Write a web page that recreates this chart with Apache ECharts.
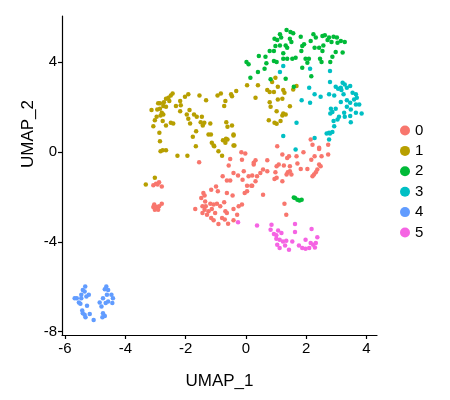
<!DOCTYPE html>
<html><head><meta charset="utf-8">
<script src="https://cdn.jsdelivr.net/npm/echarts@6/dist/echarts.min.js"></script>
<style>html,body{margin:0;padding:0;background:#fff}#c{width:450px;height:400px}</style>
</head><body><div id="c"></div>
<script>
const clusterNames = ['0','1','2','3','4','5'];
const clusterColors = ['#F8766D','#B79F00','#00BA38','#00BFC4','#619CFF','#F564E3'];
const xTicks = [-6,-4,-2,0,2,4];
const yTicks = [-8,-4,0,4];

const cluster0 = [
[-3.07,-1.48],[-2.98,-1.41],[-2.88,-1.35],[-2.79,-1.53],[-2.93,-1.45],
[-3.07,-2.45],[-3.02,-2.57],[-2.96,-2.45],[-2.88,-2.42],[-2.79,-2.30],[-3.04,-2.34],[-2.91,-2.57],
[-1.55,-0.45],[-0.52,-0.31],[-0.15,-0.01],[-0.02,-0.07],[-0.13,-0.34],[0.26,-0.48],[-0.57,-0.60],
[-0.77,-1.08],[-0.41,-0.93],[-0.26,-1.05],[-0.07,-0.86],[-0.63,-1.27],[-0.52,-1.27],[-0.11,-1.23],
[0.09,-1.08],[0.18,-1.50],[0.04,-1.50],[-0.99,-1.53],[-1.15,-1.68],[-0.93,-1.75],[-0.63,-1.82],
[-1.41,-1.82],[-1.37,-1.94],[-1.48,-2.05],[-0.44,-1.94],[-0.04,-1.82],[0.04,-1.75],[-1.35,-2.20],
[-1.18,-2.30],[-1.07,-2.34],[-0.96,-2.30],[-0.85,-2.42],[-0.72,-2.24],[-1.68,-2.54],[-1.44,-2.42],
[-1.37,-2.57],[-1.24,-2.64],[-1.13,-2.54],[-1.02,-2.72],[-0.68,-2.64],[-0.63,-2.72],[-0.41,-2.54],
[-0.24,-2.42],[-0.13,-2.34],[-0.29,-2.79],[-1.15,-2.94],[-0.79,-2.94],[-0.70,-3.01],[-0.91,-3.21],
[-1.07,-3.04],[-1.29,-2.79],[-0.41,-3.04],[-0.59,-3.19],[-1.44,-2.72],[-1.33,-2.42],
[2.15,0.56],[2.21,0.33],[2.43,0.14],[2.73,0.33],[2.73,-0.11],[1.04,0.26],[1.91,-0.01],[1.21,-0.11],
[1.37,-0.26],[1.43,-0.19],[1.68,-0.19],[2.17,-0.34],[2.28,-0.19],[2.51,-0.19],[0.71,-0.37],[0.32,-0.37],
[0.26,-0.56],[1.71,-0.51],[2.43,-0.56],[2.48,-0.63],[2.37,-0.78],[2.32,-0.90],[2.21,-1.08],[2.26,-1.00],
[1.09,-0.56],[1.26,-0.60],[1.02,-0.63],[1.46,-0.63],[1.82,-0.75],[2.04,-0.75],[0.57,-0.78],[0.71,-0.86],
[0.98,-0.90],[1.39,-0.90],[1.46,-0.86],[1.51,-1.00],[1.35,-1.00],[0.48,-0.93],[0.37,-1.08],[0.21,-1.05],
[0.95,-1.20],[1.02,-1.15],[1.21,-1.30],[0.32,-1.30],[0.21,-1.50],[0.57,-1.90],[1.28,-2.30],[1.34,-2.79],
[2.43,0.19]
];
const cluster1 = [
[-2.43,2.61],[-2.49,2.52],[-2.57,2.42],[-2.65,2.37],[-2.54,2.27],[-2.72,2.22],[-2.91,2.17],[-2.85,2.17],
[-3.13,1.87],[-2.94,1.90],[-2.85,1.93],[-2.74,2.05],[-2.65,2.02],[-2.79,1.75],[-2.74,1.67],[-2.83,1.63],
[-2.96,1.57],[-3.02,1.42],[-3.07,1.15],[-2.76,1.38],[-2.65,1.18],[-2.49,1.30],[-2.41,1.27],[-2.32,2.05],
[-2.18,2.27],[-2.16,2.08],[-2.18,1.82],[-2.02,2.46],[-1.91,2.57],[-1.96,1.67],[-1.87,1.87],[-1.91,1.48],
[-1.85,1.27],[-1.72,1.67],[-1.63,1.57],[-1.54,2.52],[-1.46,1.57],[-1.50,1.33],[-1.38,1.30],[-1.43,1.18],
[-1.18,1.27],[-1.65,0.93],[-1.76,0.68],[-1.24,0.78],[-1.16,0.78],[-1.32,2.31],[-1.13,0.41],[-1.05,0.26],
[-0.91,0.04],[-0.79,-0.16],[-0.94,2.52],[-0.83,2.61],[-0.72,2.05],[-0.68,2.27],[-0.49,2.57],[-0.46,2.49],
[-0.32,2.72],[-0.65,1.33],[-0.61,1.13],[-0.46,1.18],[-0.76,0.53],[-0.68,0.41],[-0.61,0.56],[-0.41,0.74],
[-0.38,0.29],[-2.87,0.86],[-2.85,0.48],[-2.83,0.04],[-2.76,0.08],[-2.65,0.08],[-2.27,-0.16],[-1.94,-0.16],
[-3.02,-1.15],[-3.32,-1.45],[-1.66,0.26],[-1.07,0.29],[-0.41,0.78],[-0.41,0.29],[-0.66,0.59],
[0.04,2.97],[0.40,2.97],[0.32,2.42],[0.71,2.76],[0.79,2.67],[0.93,2.67],[0.98,3.31],[0.87,3.12],
[1.06,2.91],[1.24,2.76],[1.28,2.64],[1.21,2.37],[1.06,2.34],[0.79,2.22],[1.46,2.04],[1.57,2.79],
[1.68,2.94],[1.02,1.82],[1.24,1.72],[1.32,1.67],[1.21,1.63],[0.76,1.42],[0.95,1.30],[1.02,1.26],[1.15,1.38],
[0.82,2.02]
];
const cluster2 = [
[0.02,4.01],[0.09,3.91],[0.43,4.28],[0.65,4.25],[0.68,3.95],[0.62,3.71],[0.79,4.50],[0.93,4.50],
[0.98,4.72],[0.95,5.05],[1.04,4.99],[1.13,5.25],[1.17,5.10],[1.35,5.44],[1.48,5.35],[1.57,5.29],
[1.46,5.05],[1.51,4.90],[1.32,4.75],[1.37,4.65],[1.24,4.40],[1.13,4.75],[0.93,4.05],[1.02,4.01],
[1.24,4.16],[1.37,4.16],[1.54,4.16],[1.65,4.20],[1.82,5.14],[1.87,4.72],[1.93,4.80],[1.84,4.50],
[1.98,4.16],[2.09,4.16],[2.04,3.98],[2.15,4.95],[2.24,5.25],[2.32,5.10],[2.28,4.65],[2.43,4.65],
[2.54,5.17],[2.62,5.20],[2.71,4.99],[2.76,5.10],[2.84,4.90],[2.91,5.14],[3.02,5.10],[3.04,4.87],
[3.15,4.95],[3.28,4.90],[2.57,4.75],[2.54,4.50],[2.46,4.16],[2.51,4.01],[2.80,4.01],[2.87,4.25],
[2.98,4.46],[3.21,4.43],[1.87,3.76],[2.17,3.38],[0.40,3.56],[0.15,3.31],[1.32,3.27],[0.82,3.24],[1.59,2.91],
[1.63,-2.05],[1.71,-2.12],[1.78,-2.16],[1.85,-2.13],[1.59,-2.02]
];
const cluster3 = [
[1.13,3.56],[2.79,3.61],[2.10,2.86],[2.28,2.57],[2.48,2.46],[2.76,2.57],[2.93,2.52],[1.85,2.31],
[2.13,2.20],[2.79,3.12],[2.98,2.91],[3.06,2.82],[3.15,2.86],[3.21,3.09],[3.28,3.01],[3.35,2.86],
[3.46,2.94],[3.17,2.76],[3.24,2.57],[3.15,2.23],[3.35,2.31],[3.54,2.64],[3.65,2.57],[3.68,2.42],
[3.59,2.34],[3.65,2.12],[3.76,2.12],[3.46,2.20],[3.35,2.02],[3.48,1.90],[3.65,1.75],[3.84,1.72],
[2.82,1.93],[2.98,1.93],[2.87,1.78],[2.80,1.72],[3.26,1.75],[3.09,1.57],[3.04,1.45],[2.91,1.38],
[3.28,1.57],[3.46,1.60],[3.48,1.33],[1.68,1.30],[2.93,1.15],[2.87,0.89],[2.76,0.86],[2.68,0.83],
[2.76,0.56],[2.28,0.63],[1.24,0.71],[1.65,0.11],[2.79,0.83],[1.24,3.83],[2.13,3.71]
];
const cluster4 = [
[-5.33,-5.99],[-5.41,-6.14],[-5.35,-6.21],[-5.21,-6.36],[-5.29,-6.43],[-5.61,-6.51],[-5.46,-6.51],
[-5.54,-6.70],[-5.49,-6.76],[-5.27,-6.85],[-5.43,-7.06],[-5.41,-7.18],[-5.35,-7.25],[-5.18,-7.22],
[-5.32,-7.36],[-5.05,-7.48],[-4.63,-5.99],[-4.68,-6.11],[-4.57,-6.14],[-4.61,-6.36],[-4.74,-6.51],
[-4.46,-6.36],[-4.41,-6.51],[-4.43,-6.73],[-4.57,-6.66],[-4.65,-6.73],[-4.79,-6.88],[-4.85,-6.70],
[-4.74,-7.18],[-4.68,-7.30],[-4.76,-7.36],[-5.46,-6.36],[-5.68,-6.51]
];
const cluster5 = [
[0.37,-3.27],[0.85,-3.24],[0.82,-3.46],[0.93,-3.65],[1.01,-3.71],[1.07,-3.50],[1.18,-3.61],[1.01,-3.86],
[1.12,-3.91],[1.23,-3.98],[1.34,-3.95],[1.04,-4.13],[1.12,-4.28],[1.30,-4.16],[1.43,-4.35],[1.54,-3.98],
[1.63,-3.56],[1.63,-3.21],[1.76,-4.16],[1.87,-4.28],[1.98,-4.31],[2.10,-4.28],[2.15,-4.05],[2.23,-4.13],
[2.32,-4.05],[2.37,-3.80],[2.18,-3.43],[1.98,-3.91],[2.29,-4.25],[-0.26,-3.13]
];
const clusters = [cluster0, cluster1, cluster2, cluster3, cluster4, cluster5];

const chart = echarts.init(document.getElementById('c'), null, {renderer:'canvas'});
const fam = 'Liberation Sans, Arial, sans-serif';
const axisFont = {fontFamily:fam, fontSize:15, color:'#000'};
chart.setOption({
  animation:false,
  backgroundColor:'#fff',
  grid:{left:62, right:73, top:16, bottom:65, containLabel:false},
  xAxis:{
    type:'value', min:-6.1, max:4.35,
    name:'UMAP_1', nameLocation:'middle', nameGap:38,
    nameTextStyle:{fontFamily:fam, fontSize:17, color:'#000'},
    axisLine:{show:true, onZero:false, lineStyle:{color:'#000', width:1.2}},
    axisTick:{show:true, length:4, customValues:xTicks, lineStyle:{color:'#000', width:1.2}},
    axisLabel:Object.assign({customValues:xTicks, margin:6, formatter:v=>String(v)}, axisFont),
    splitLine:{show:false}
  },
  yAxis:{
    type:'value', min:-8.15, max:6.06,
    axisLine:{show:true, onZero:false, lineStyle:{color:'#000', width:1.2}},
    axisTick:{show:true, length:4, customValues:yTicks, lineStyle:{color:'#000', width:1.2}},
    axisLabel:Object.assign({customValues:yTicks, margin:5, formatter:v=>String(v)}, axisFont),
    splitLine:{show:false}
  },
  graphic:[{
    type:'text', x:28, y:134, rotation:Math.PI/2,
    style:{text:'UMAP_2', fontFamily:fam, fontSize:17, fill:'#000', align:'center', verticalAlign:'middle'}
  }],
  legend:{
    data:clusterNames, orient:'vertical', left:395, top:118,
    icon:'circle', itemWidth:10, itemHeight:10, itemGap:5.4,
    textStyle:{fontFamily:fam, fontSize:15, color:'#000'}
  },
  series: clusters.map((d,i)=>({
    name:clusterNames[i], type:'scatter', data:d, symbol:'circle', symbolSize:4.5,
    itemStyle:{color:clusterColors[i], opacity:1}, silent:true
  }))
});
</script>
</body></html>
